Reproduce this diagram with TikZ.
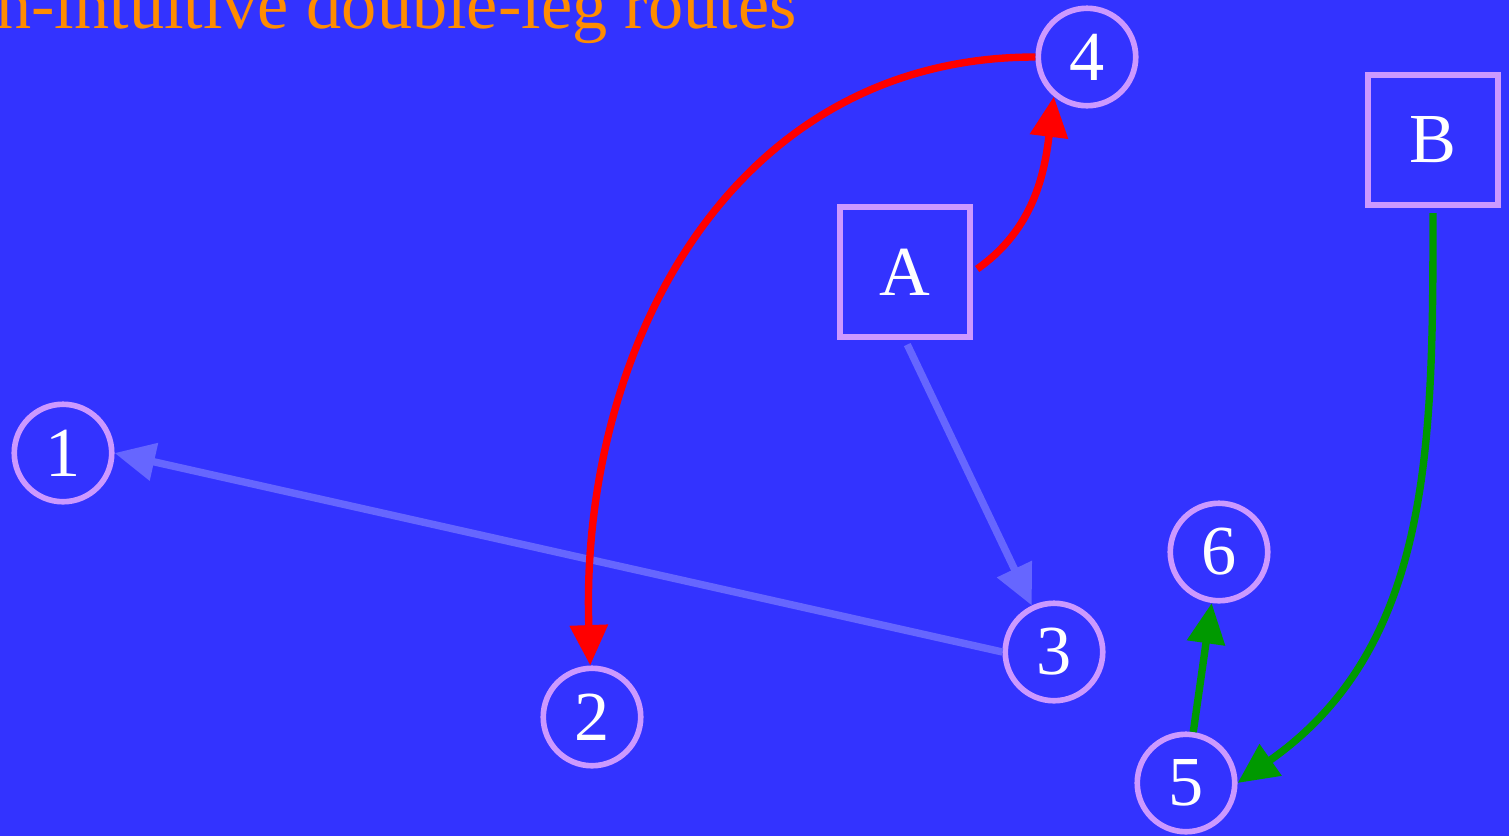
\documentclass[tikz,border=0pt]{standalone}
\usepackage{fontspec}
\setmainfont{Liberation Serif}
\usepackage{xcolor}
\usetikzlibrary{positioning, arrows.meta}
\definecolor{deepbg}{HTML}{3333FF}
\definecolor{lilac}{HTML}{CC99FF}
\definecolor{paleleg}{HTML}{6666FF}
\definecolor{redleg}{HTML}{FF0000}
\definecolor{greenleg}{HTML}{009900}
\definecolor{titleorange}{HTML}{FF8C00}

\begin{document}
\begin{tikzpicture}[
  x=0.02cm, y=-0.02cm,
  stop/.style={draw=lilac, line width=3.2pt, circle, minimum size=1.95cm, inner sep=0pt, text=white, font=\fontsize{40}{44}\selectfont},
  hub/.style={draw=lilac, line width=3.2pt, minimum width=2.6cm, minimum height=2.6cm, inner sep=0pt, text=white, font=\fontsize{40}{44}\selectfont},
  leg/.style={line width=4.2pt, -{Triangle[length=23pt, width=21pt]}},
  plain/.style={leg, color=paleleg},
  hot/.style={leg, color=redleg},
  cool/.style={leg, color=greenleg}
]
  \fill[deepbg] (0,0) rectangle (1509,836);
  \useasboundingbox (0,0) rectangle (1509,836);

  \node[anchor=base west, inner sep=0pt, text=titleorange, font=\fontsize{40}{44}\selectfont] (title) at (-4,28) {n-intuitive double-leg routes};

  \node[hub] (A) at (905,272) {A};
  \node[hub] (B) at (1433,140) {B};
  \node[stop] (n1) at (63,453) {1};
  \node[stop] (n2) at (592,717) {2};
  \node[stop] (n3) at (1054,652) {3};
  \node[stop] (n4) at (1087,57) {4};
  \node[stop] (n5) at (1186,783) {5};
  \node[stop] (n6) at (1219,552) {6};

  \draw[plain, shorten <=3pt] (A.south) -- (n3);
  \draw[plain] (n3.west) -- (n1.east);
  \draw[hot, shorten <=3pt] (A.east) to[out=35, in=-97] (n4.-130);
  \draw[hot] (n4.west) to[out=180, in=92, looseness=1.05] (n2);
  \draw[cool, shorten <=3pt] (B.south) to[out=-90, in=35] (n5.east);
  \draw[cool] (n5) -- (n6);
\end{tikzpicture}
\end{document}
